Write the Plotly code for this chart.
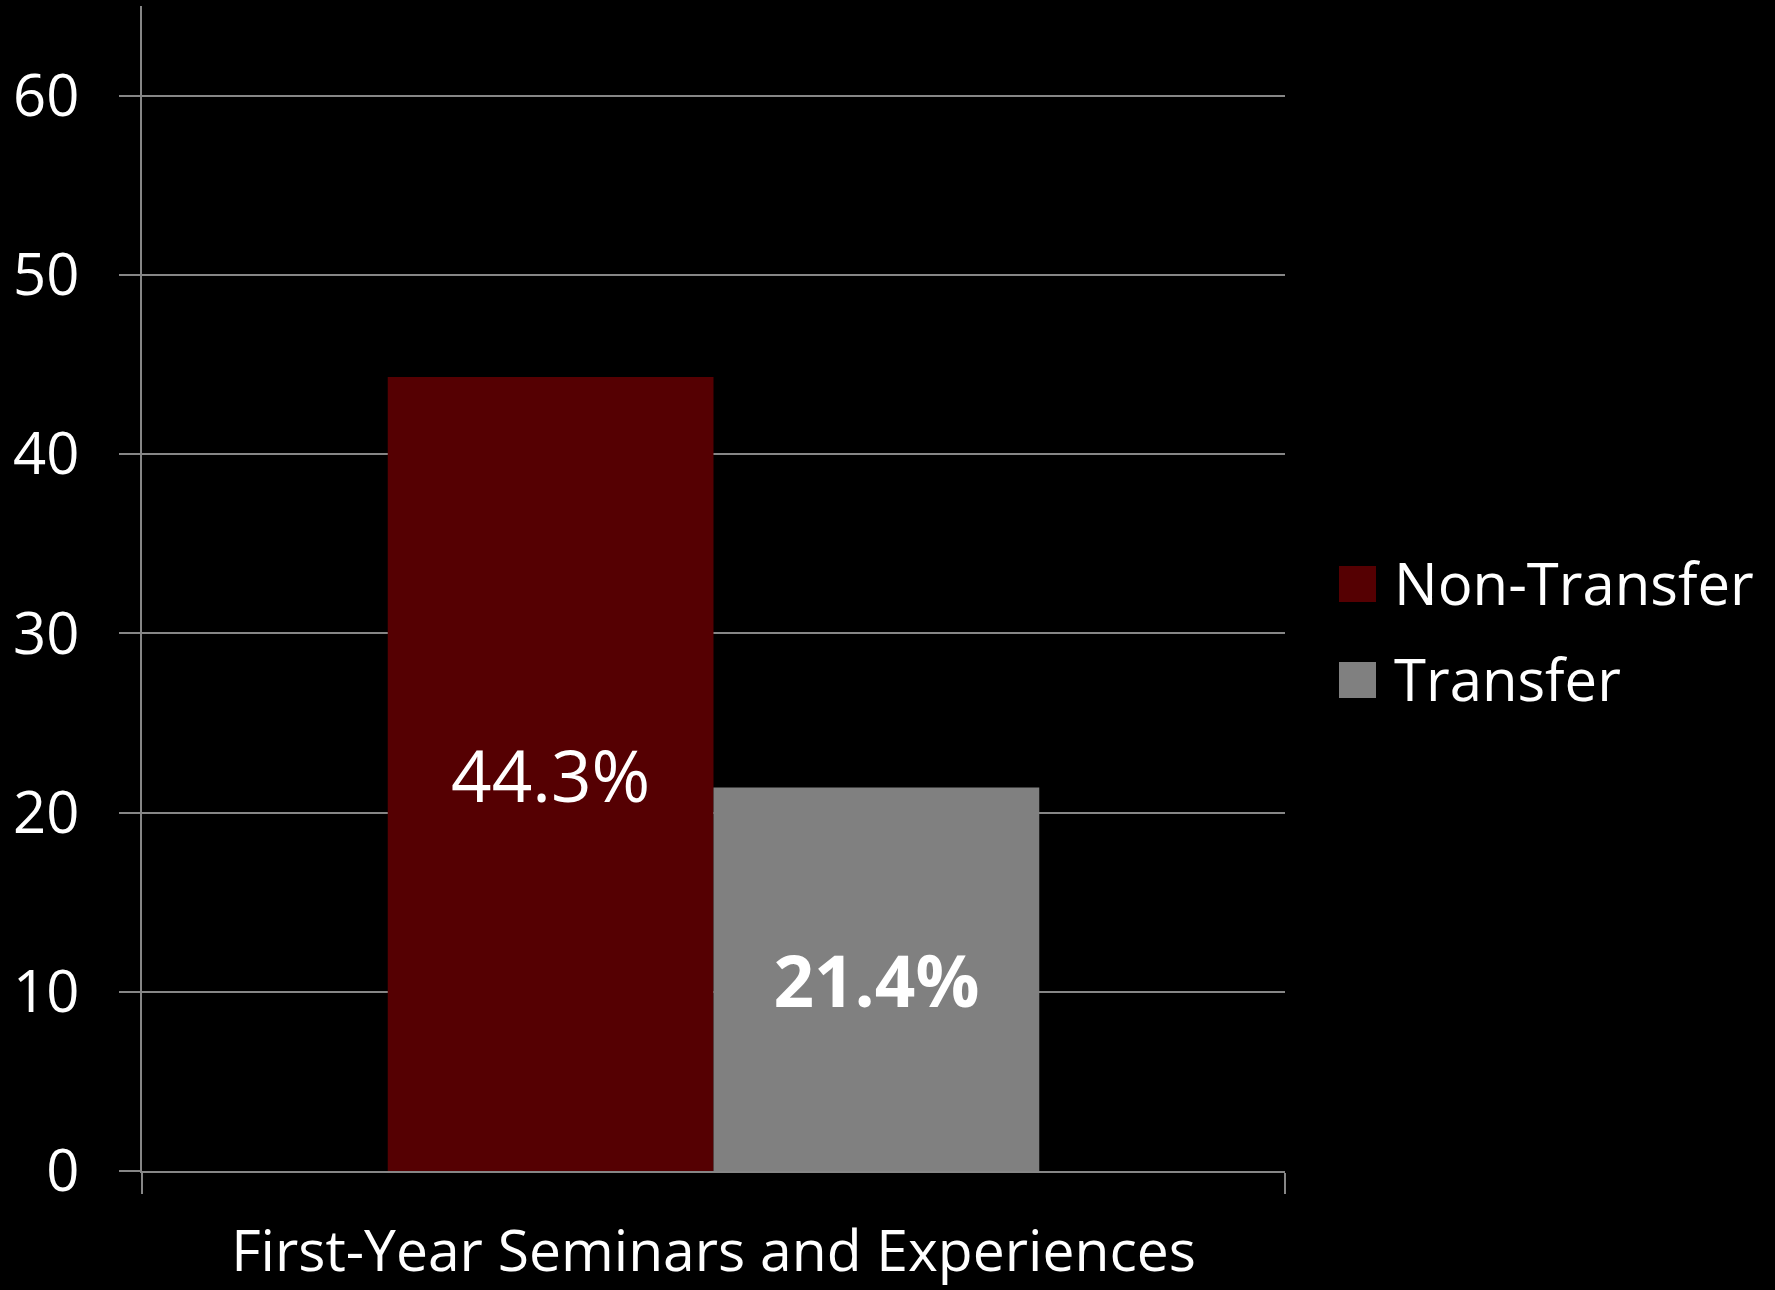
import plotly.graph_objects as go

# Share of students, by group
category = ["First-Year Seminars and Experiences"]
groups = ["Non-Transfer", "Transfer"]
values = [44.3, 21.4]
colors = ["#550002", "#808080"]
label_weights = ["normal", "bold"]

y_ticks = [0, 10, 20, 30, 40, 50, 60]

W, H = 1775, 1290
L, R, T, B = 142, 490, 6, 119
plot_w = W - L - R
plot_h = H - T - B

FONT = "Open Sans"
GRID = "#868686"

fig = go.Figure()
for name, val, col, wt in zip(groups, values, colors, label_weights):
    fig.add_trace(go.Bar(
        name=name,
        x=category,
        y=[val],
        marker=dict(color=col, line=dict(width=0)),
        texttemplate="%{y:.1f}%",
        textposition="inside",
        insidetextanchor="middle",
        textangle=0,
        textfont=dict(family=FONT, size=71, color="white", weight=wt),
        showlegend=False,
    ))

# Legend drawn as swatches plus labels
def px_x(px):
    return (px - L) / plot_w

def px_y(py):
    return (H - B - py) / plot_h

legend_rows = [(566, 602), (662, 698)]
for (top, bot), name, col in zip(legend_rows, groups, colors):
    fig.add_shape(type="rect", xref="paper", yref="paper",
                  x0=px_x(1339), x1=px_x(1376), y0=px_y(bot), y1=px_y(top),
                  fillcolor=col, line=dict(width=0))
    fig.add_annotation(xref="paper", yref="paper", x=px_x(1392), y=px_y((top + bot) / 2 - 2),
                       text=name, showarrow=False, xanchor="left", yanchor="middle",
                       font=dict(family=FONT, size=58, color="white"))

fig.update_layout(
    width=W, height=H,
    margin=dict(l=L, r=R, t=T, b=B, pad=0, autoexpand=False),
    paper_bgcolor="black", plot_bgcolor="black",
    barmode="group", bargap=0.43, bargroupgap=0,
    font=dict(family=FONT, color="white"),
    showlegend=False,
)
fig.update_xaxes(
    type="category", range=[-0.5, 0.5], automargin=False,
    showline=True, linecolor=GRID, linewidth=2,
    ticks="outside", tickson="boundaries", ticklen=21, tickcolor=GRID, tickwidth=2,
    tickfont=dict(family=FONT, size=57, color="white"),
    ticklabelstandoff=30,
    showgrid=False, zeroline=False,
)
fig.update_yaxes(
    range=[0, 65], tickvals=y_ticks, automargin=False,
    showline=True, linecolor=GRID, linewidth=2,
    ticks="outside", ticklen=21, tickcolor=GRID, tickwidth=2,
    tickfont=dict(family=FONT, size=58, color="white"),
    ticklabelstandoff=28,
    showgrid=True, gridcolor=GRID, gridwidth=2,
    zeroline=False,
)

fig.write_html("out.html")
